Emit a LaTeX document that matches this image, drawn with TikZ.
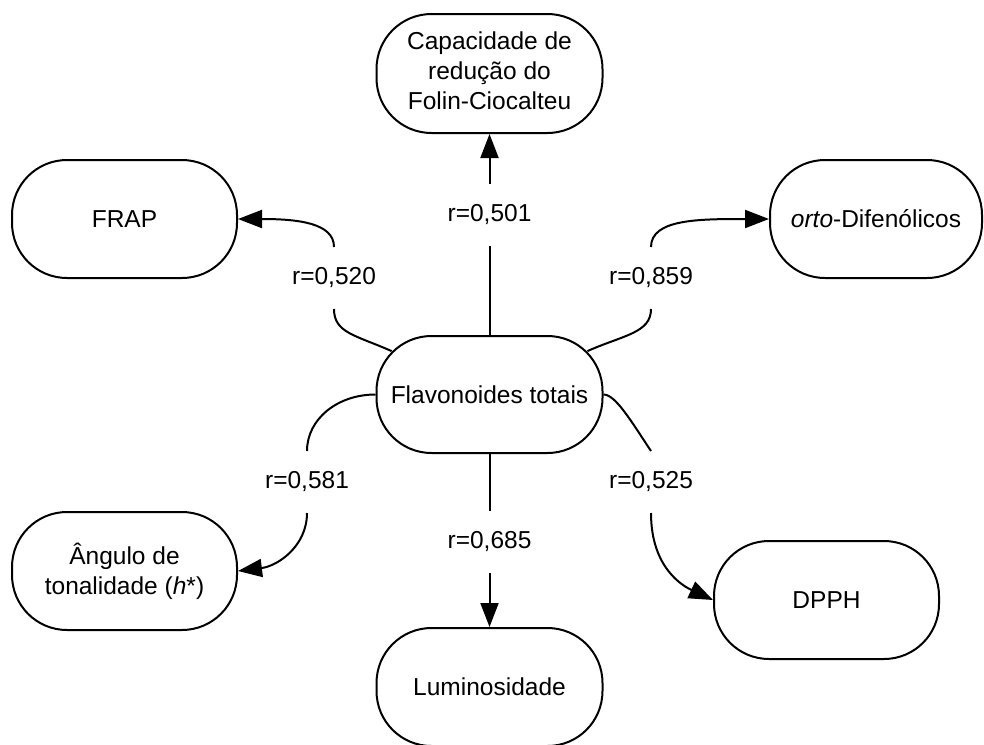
\documentclass[tikz,border=0pt]{standalone}
\usepackage{fontspec}
\setmainfont{Liberation Sans}
\usetikzlibrary{arrows.meta,calc}
\begin{document}
\begin{tikzpicture}
[x=1pt,y=1pt,line width=2pt,
>={Triangle[length=24pt,width=18pt]},
measure/.style={draw,rounded corners=55pt,minimum width=226pt,minimum height=118pt,
  inner sep=0pt,align=center,font=\fontsize{24.5}{30}\selectfont},
coef/.style={inner sep=0pt,minimum height=60pt,font=\fontsize{24.5}{30}\selectfont}]
\useasboundingbox (0,0) rectangle (984,-744);
\node[measure,minimum height=119pt] (folin) at (489.5,-73.5) {Capacidade de\\redução do\\Folin-Ciocalteu\vphantom{p}};
\node[measure,minimum width=225pt] (frap) at (124.5,-219) {FRAP};
\node[measure,minimum width=212pt] (orto) at (876,-219) {\textit{orto}-Difenólicos};
\node[measure,minimum height=117pt] (flav) at (489.5,-394.5) {Flavonoides totais};
\node[measure,minimum width=225pt] (hue) at (124.5,-571) {Ângulo de\\tonalidade (\textit{h}*)};
\node[measure,minimum width=225pt] (dpph) at (826.5,-600) {DPPH};
\node[measure] (lum) at (489.5,-687) {Luminosidade};

\node[coef] (r501) at (489.5,-215) {r=0,501};
\node[coef] (r520) at (334,-278) {r=0,520};
\node[coef] (r859) at (651,-278) {r=0,859};
\node[coef] (r581) at (307,-482) {r=0,581};
\node[coef] (r525) at (651,-482) {r=0,525};
\node[coef] (r685) at (489.5,-542) {r=0,685};

\coordinate (flavnw) at ($(flav.north west)+(16.1,-16.1)$);
\coordinate (flavne) at ($(flav.north east)+(-16.1,-16.1)$);

\draw (flav.north) -- (r501.south);
\draw [->] (r501.north) -- (folin.south);
\draw (flavnw) .. controls +(-36,16) and +(0,-24) .. (r520.south);
\draw [->] (r520.north) .. controls +(0,24) and +(60,0) .. (frap.east);
\draw (flavne) .. controls +(36,16) and +(0,-24) .. (r859.south);
\draw [->] (r859.north) .. controls +(0,28) and +(-70,0) .. (orto.west);
\draw (flav.west) .. controls +(-38,0) and +(0,32) .. (r581.north);
\draw [->] (r581.south) .. controls +(0,-33) and +(40,5) .. (hue.east);
\draw (flav.east) .. controls +(12,0) and +(-20,30) .. (r525.north);
\draw [->] (r525.south) .. controls +(0,-55) and +(-30,14) .. (dpph.west);
\draw (flav.south) -- (r685.north);
\draw [->] (r685.south) -- (lum.north);
\end{tikzpicture}
\end{document}
